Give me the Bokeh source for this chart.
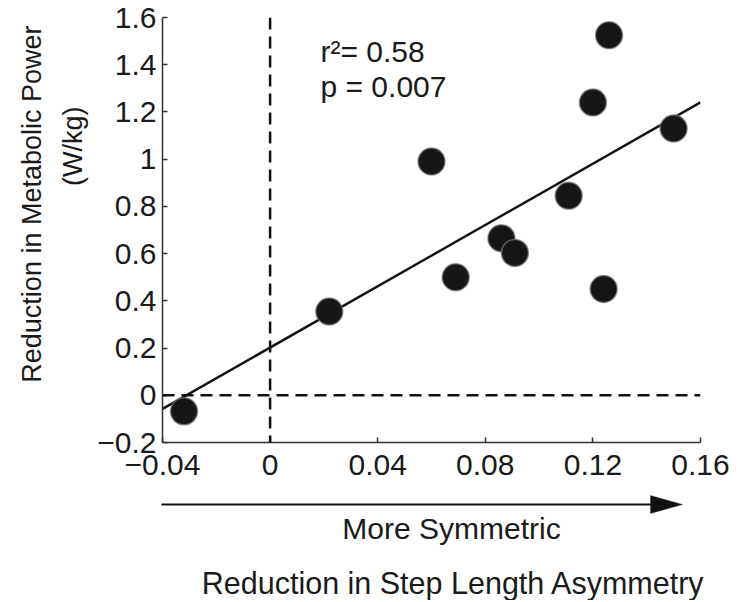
import math
import numpy as np
from bokeh.plotting import figure
from bokeh.layouts import row, column
from bokeh.models import Range1d, FixedTicker, Label, Arrow, PolyAnnotation, Span
from bokeh.embed import file_html
from bokeh.resources import INLINE

# ---- data ----
step_asym_reduction = [-0.032, 0.022, 0.060, 0.069, 0.086, 0.091, 0.111, 0.120, 0.126, 0.124, 0.150]
metab_reduction = [-0.068, 0.355, 0.99, 0.50, 0.665, 0.603, 0.845, 1.24, 1.525, 0.45, 1.13]
fit_slope = 6.49
fit_intercept = 0.202
x_ticks = [-0.04, 0, 0.04, 0.08, 0.12, 0.16]
x_tick_labels = ["\u22120.04", "0", "0.04", "0.08", "0.12", "0.16"]
y_ticks = [-0.2, 0, 0.2, 0.4, 0.6, 0.8, 1.0, 1.2, 1.4, 1.6]
y_tick_labels = ["\u22120.2", "0", "0.2", "0.4", "0.6", "0.8", "1", "1.2", "1.4", "1.6"]
stats_lines = ["r\u00b2= 0.58", "p = 0.007"]
y_label_lines = ["Reduction in Metabolic Power", "(W/kg)"]
x_arrow_label = "More Symmetric"
x_label = "Reduction in Step Length Asymmetry"

XMIN, XMAX = -0.04, 0.16
YMIN, YMAX = -0.2, 1.6

# ---- layout (page pixels) ----
LEFT_W = 92                 # width of the side strip holding the y label
MB_L, MB_T, MB_R, MB_B = 70, 17, 40, 50
FW, FH = 538, 425
MAIN_W = MB_L + FW + MB_R
MAIN_H = MB_T + FH + MB_B
TOTAL_W = LEFT_W + MAIN_W
BOTTOM_H = 600 - MAIN_H
FONT = "Liberation Sans"
TXT = "#1a1a1a"
INK = "#111111"

def dx(px):  # page pixel -> data x of the main plot
    return XMIN + (px - LEFT_W - MB_L) / FW * (XMAX - XMIN)

def dy(py):  # page pixel -> data y of the main plot
    return YMAX - (py - MB_T) / FH * (YMAX - YMIN)

def blank(w, h, xr, yr):
    f = figure(width=w, height=h, x_range=xr, y_range=yr,
               x_axis_location=None, y_axis_location=None,
               output_backend="svg", toolbar_location=None, tools="",
               min_border=0)
    f.outline_line_color = None
    f.xgrid.visible = False
    f.ygrid.visible = False
    return f

# ---- main plot ----
p = figure(width=MAIN_W, height=MAIN_H,
           min_border_left=MB_L, min_border_top=MB_T,
           min_border_right=MB_R, min_border_bottom=MB_B,
           x_range=Range1d(XMIN, XMAX), y_range=Range1d(YMIN, YMAX),
           output_backend="svg", toolbar_location=None, tools="")
p.outline_line_color = None
p.xgrid.visible = False
p.ygrid.visible = False

for ax, ticks, labels, standoff in ((p.xaxis[0], x_ticks, x_tick_labels, 12),
                                    (p.yaxis[0], y_ticks, y_tick_labels, 6)):
    ax.ticker = FixedTicker(ticks=ticks)
    ax.major_label_overrides = {t: l for t, l in zip(ticks, labels)}
    ax.minor_tick_line_color = None
    ax.major_tick_in = 5
    ax.major_tick_out = 0
    ax.axis_line_color = "#333333"
    ax.axis_line_width = 1.5
    ax.major_tick_line_color = "#333333"
    ax.major_tick_line_width = 1.5
    ax.major_label_text_font = FONT
    ax.major_label_text_font_size = "30px"
    ax.major_label_text_color = TXT
    ax.major_label_standoff = standoff

# dashed zero lines
p.add_layout(Span(location=0, dimension="height", line_color=INK,
                  line_width=2.5, line_dash="12 7"))
p.add_layout(Span(location=0, dimension="width", line_color=INK,
                  line_width=2.5, line_dash="12 7"))

# regression line
fx = np.array([XMIN, XMAX])
p.line(fx, fit_intercept + fit_slope * fx, line_color=INK, line_width=2.4)

# points
p.scatter(step_asym_reduction, metab_reduction, size=27, marker="circle",
          fill_color="#161616", line_color="#777777", line_width=1.5, line_alpha=0.7)

# stats text
for i, s in enumerate(stats_lines):
    p.add_layout(Label(x=dx(320), y=dy(51 + 35 * i), text=s, text_font=FONT,
                       text_font_size="30px", text_color=TXT,
                       text_align="left", text_baseline="middle"))

# ---- left strip: y axis label (page-pixel coordinates) ----
left = blank(LEFT_W, MAIN_H, Range1d(0, LEFT_W), Range1d(MAIN_H, 0))
left.add_layout(Label(x=31, y=216, text=y_label_lines[0], angle=math.pi / 2,
                      text_font=FONT, text_font_size="27px", text_color=TXT,
                      text_align="center", text_baseline="middle"))
left.add_layout(Label(x=72, y=149, text=y_label_lines[1], angle=math.pi / 2,
                      text_font=FONT, text_font_size="27px", text_color=TXT,
                      text_align="center", text_baseline="middle"))

# ---- bottom strip: arrow and x labels (page-pixel coordinates) ----
bottom = blank(TOTAL_W, BOTTOM_H, Range1d(0, TOTAL_W), Range1d(600, MAIN_H))
bottom.add_layout(Arrow(x_start=161, y_start=504, x_end=655, y_end=504,
                        end=None, line_color=INK, line_width=1.8))
bottom.add_layout(PolyAnnotation(xs=[650, 682, 650], ys=[495, 504, 513],
                                 fill_color=INK, fill_alpha=1.0,
                                 line_color=INK, line_width=1))
bottom.add_layout(Label(x=451, y=528, text=x_arrow_label, text_font=FONT,
                        text_font_size="30px", text_color=TXT,
                        text_align="center", text_baseline="middle"))
bottom.add_layout(Label(x=453, y=582, text=x_label, text_font=FONT,
                        text_font_size="30.5px", text_color=TXT,
                        text_align="center", text_baseline="middle"))

layout = column(row(left, p, spacing=0), bottom, spacing=0)
open("out.html", "w").write(file_html(layout, INLINE))
